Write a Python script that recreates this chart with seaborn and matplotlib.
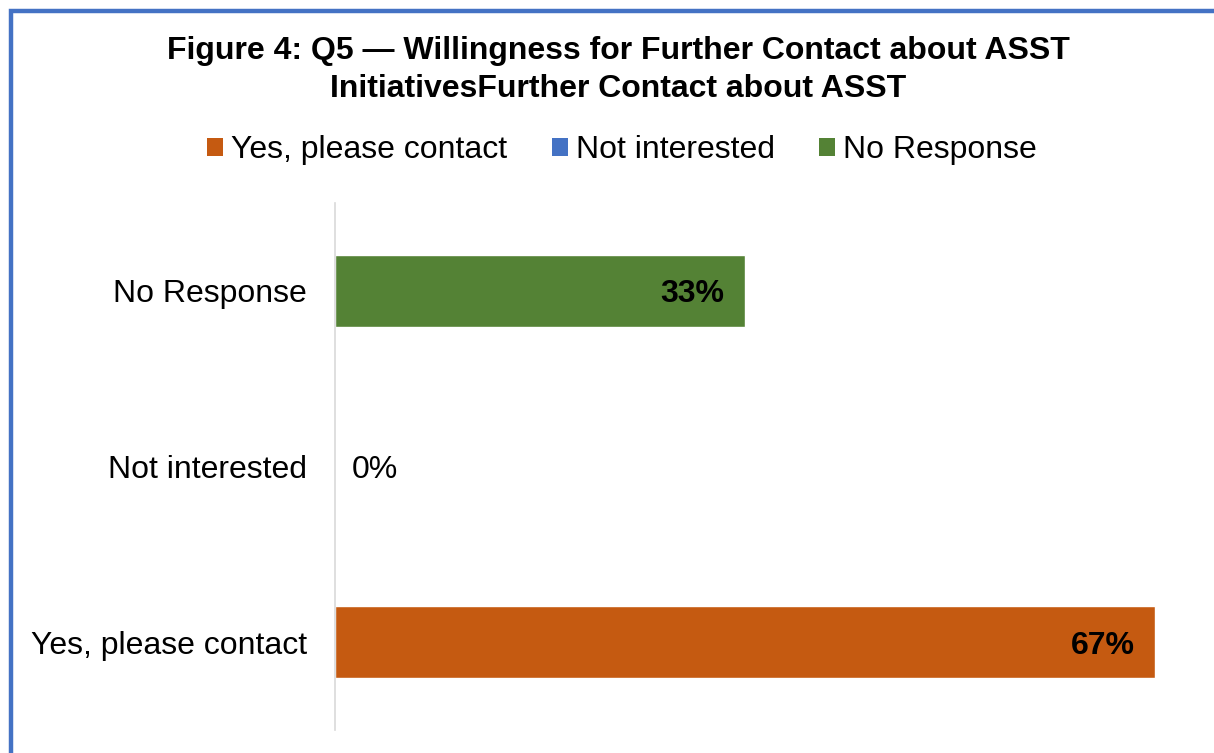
import matplotlib
matplotlib.use("Agg")
import matplotlib.pyplot as plt
from matplotlib.patches import Patch
from matplotlib.lines import Line2D
import seaborn as sns
import pandas as pd

categories = ["No Response", "Not interested", "Yes, please contact"]
values = [33.3, 0.0, 66.7]
labels = ["33%", "0%", "67%"]
legend_order = ["Yes, please contact", "Not interested", "No Response"]
colors = {"Yes, please contact": "#C55A11", "Not interested": "#4472C4", "No Response": "#548235"}
title = "Figure 4: Q5 \u2014 Willingness for Further Contact about ASST\nInitiativesFurther Contact about ASST"

sns.set_theme(style="white")
plt.rcParams['font.family'] = ['Liberation Sans', 'DejaVu Sans']
plt.rcParams['text.color'] = 'black'

W, H = 1214, 753
fig = plt.figure(figsize=(W / 100, H / 100), dpi=100)
ax = fig.add_axes([335 / W, 1 - 730 / H, (1175 - 335) / W, (730 - 203) / H])

df = pd.DataFrame({"category": categories, "value": values})
sns.barplot(data=df, y="category", x="value", hue="category", order=categories,
            palette=colors, width=0.41, dodge=False, legend=False, ax=ax,
            saturation=1, orient="h")

ax.set_xlim(0, 68.3)
ax.set_ylim(2.5, -0.5)
ax.set_xlabel("")
ax.set_ylabel("")
ax.set_xticks([])
for s in ["top", "right", "bottom"]:
    ax.spines[s].set_visible(False)
ax.spines["left"].set_color("#D9D9D9")
ax.spines["left"].set_linewidth(1.2)
ax.tick_params(axis="y", labelsize=23, length=0, pad=20, colors="black")
for t in ax.get_yticklabels():
    t.set_color("black")

for i, (v, lab) in enumerate(zip(values, labels)):
    if v > 5:
        ax.annotate(lab, xy=(v, i), xytext=(-20, 0), textcoords="offset pixels",
                    ha="right", va="center_baseline", fontsize=23, fontweight="bold", color="black")
    else:
        ax.annotate(lab, xy=(v, i), xytext=(17, 0), textcoords="offset pixels",
                    ha="left", va="center_baseline", fontsize=23, color="black")

fig.text(618 / W, 1 - 70 / H, title, ha="center", va="center", fontsize=23,
         fontweight="bold", linespacing=1.38, color="black")

handles = [Patch(facecolor=colors[c], edgecolor="none", label=c) for c in legend_order]
leg = fig.legend(handles=handles, loc="center", bbox_to_anchor=(622 / W, 1 - 150 / H), ncol=3,
                 frameon=False, fontsize=23, handlelength=0.5, handleheight=0.5,
                 handletextpad=0.25, columnspacing=1.4)
for t in leg.get_texts():
    t.set_color("black")

fig.add_artist(Line2D([10.5 / W, 10.5 / W, 1], [0, 1 - 10.5 / H, 1 - 10.5 / H],
                      transform=fig.transFigure, color="#4472C4", linewidth=3.2,
                      solid_joinstyle="miter"))

fig.savefig("out.png", dpi=100)
